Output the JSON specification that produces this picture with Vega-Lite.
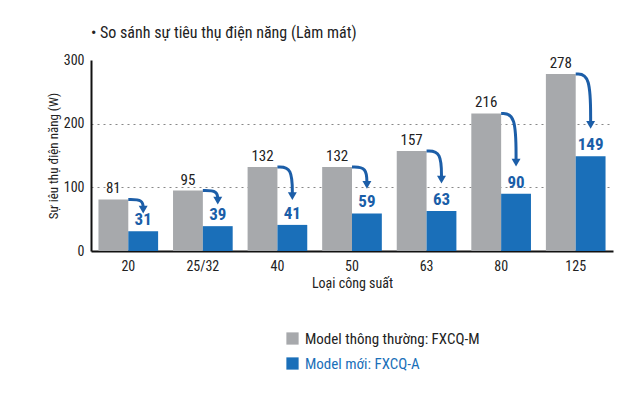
{
  "$schema": "https://vega.github.io/schema/vega-lite/v6.json",
  "width": 522,
  "height": 191,
  "padding": {"left": 47, "top": 25, "right": 5, "bottom": 5},
  "background": "white",
  "title": {
    "text": "• So sánh sự tiêu thụ điện năng (Làm mát)",
    "anchor": "start",
    "frame": "group",
    "fontSize": 16,
    "fontWeight": "normal",
    "color": "#222222",
    "font": "Liberation Sans Narrow, Roboto Condensed, Liberation Sans",
    "offset": 12
  },
  "config": {
    "view": {"stroke": null},
    "font": "Liberation Sans Narrow, Roboto Condensed, Liberation Sans"
  },
  "datasets": {
    "main": [
      {"cap": "20", "model": "Model thông thường: FXCQ-M", "value": 81},
      {"cap": "20", "model": "Model mới: FXCQ-A", "value": 31},
      {"cap": "25/32", "model": "Model thông thường: FXCQ-M", "value": 95},
      {"cap": "25/32", "model": "Model mới: FXCQ-A", "value": 39},
      {"cap": "40", "model": "Model thông thường: FXCQ-M", "value": 132},
      {"cap": "40", "model": "Model mới: FXCQ-A", "value": 41},
      {"cap": "50", "model": "Model thông thường: FXCQ-M", "value": 132},
      {"cap": "50", "model": "Model mới: FXCQ-A", "value": 59},
      {"cap": "63", "model": "Model thông thường: FXCQ-M", "value": 157},
      {"cap": "63", "model": "Model mới: FXCQ-A", "value": 63},
      {"cap": "80", "model": "Model thông thường: FXCQ-M", "value": 216},
      {"cap": "80", "model": "Model mới: FXCQ-A", "value": 90},
      {"cap": "125", "model": "Model thông thường: FXCQ-M", "value": 278},
      {"cap": "125", "model": "Model mới: FXCQ-A", "value": 149}
    ],
    "arrows": [
      {"id": 0, "pt": 0, "pos": 0.5, "value": 81},
      {"id": 0, "pt": 1, "pos": 0.7, "value": 81},
      {"id": 0, "pt": 2, "pos": 0.7, "value": 65},
      {"id": 1, "pt": 0, "pos": 1.5, "value": 95},
      {"id": 1, "pt": 1, "pos": 1.7, "value": 95},
      {"id": 1, "pt": 2, "pos": 1.7, "value": 79},
      {"id": 2, "pt": 0, "pos": 2.5, "value": 132},
      {"id": 2, "pt": 1, "pos": 2.7, "value": 132},
      {"id": 2, "pt": 2, "pos": 2.7, "value": 86},
      {"id": 3, "pt": 0, "pos": 3.5, "value": 132},
      {"id": 3, "pt": 1, "pos": 3.7, "value": 132},
      {"id": 3, "pt": 2, "pos": 3.7, "value": 104},
      {"id": 4, "pt": 0, "pos": 4.5, "value": 157},
      {"id": 4, "pt": 1, "pos": 4.7, "value": 157},
      {"id": 4, "pt": 2, "pos": 4.7, "value": 112},
      {"id": 5, "pt": 0, "pos": 5.5, "value": 216},
      {"id": 5, "pt": 1, "pos": 5.7, "value": 216},
      {"id": 5, "pt": 2, "pos": 5.7, "value": 139},
      {"id": 6, "pt": 0, "pos": 6.5, "value": 278},
      {"id": 6, "pt": 1, "pos": 6.7, "value": 278},
      {"id": 6, "pt": 2, "pos": 6.7, "value": 198}
    ]
  },
  "resolve": {"scale": {"x": "independent"}},
  "layer": [
    {
      "data": {"name": "main"},
      "encoding": {
        "x": {
          "field": "cap",
          "type": "nominal",
          "sort": null,
          "scale": {"paddingInner": 0.2, "paddingOuter": 0.1},
          "axis": {
            "title": "Loại công suất",
            "titleFontSize": 14,
            "titleFontWeight": "normal",
            "titleColor": "#222222",
            "titlePadding": 3,
            "labelAngle": 0,
            "labelFontSize": 14,
            "labelColor": "#222222",
            "labelPadding": 8,
            "ticks": false,
            "domainColor": "#111111",
            "domainWidth": 2
          }
        },
        "xOffset": {"field": "model", "type": "nominal", "sort": ["Model thông thường: FXCQ-M", "Model mới: FXCQ-A"]},
        "y": {
          "field": "value",
          "type": "quantitative",
          "scale": {"domain": [0, 300], "nice": false},
          "axis": {
            "title": "Sự iêu thụ điện năng (W)",
            "titleFontSize": 13,
            "titleFontWeight": "normal",
            "titleColor": "#222222",
            "titlePadding": 3,
            "values": [0, 100, 200, 300],
            "labelFontSize": 14,
            "labelColor": "#222222",
            "labelPadding": 7,
            "ticks": false,
            "domainColor": "#111111",
            "domainWidth": 2,
            "grid": true,
            "gridDash": [2, 4],
            "gridColor": {"condition": {"test": "datum.value == 300 || datum.value == 0", "value": "transparent"}, "value": "#888888"}
          }
        }
      },
      "layer": [
        {
          "mark": {"type": "bar"},
          "encoding": {
            "color": {
              "field": "model",
              "type": "nominal",
              "scale": {"domain": ["Model thông thường: FXCQ-M", "Model mới: FXCQ-A"], "range": ["#a7a9ac", "#1a6fb9"]},
              "legend": {
                "title": null,
                "orient": "none",
                "legendX": 194,
                "legendY": 271,
                "direction": "vertical",
                "symbolType": "square",
                "symbolSize": 150,
                "symbolStrokeWidth": 0,
                "labelFontSize": 15,
                "labelLimit": 400,
                "rowPadding": 9,
                "labelOffset": 5,
                "encode": {
                  "labels": {"update": {"fill": {"signal": "datum.label == 'Model mới: FXCQ-A' ? '#1a6fb9' : '#222222'"}}}
                }
              }
            }
          }
        },
        {
          "transform": [{"filter": "datum.model == 'Model thông thường: FXCQ-M'"}],
          "mark": {"type": "text", "baseline": "middle", "dy": -11, "fontSize": 15, "color": "#222222"},
          "encoding": {"text": {"field": "value", "type": "quantitative"}}
        },
        {
          "transform": [{"filter": "datum.model == 'Model mới: FXCQ-A'"}],
          "mark": {"type": "text", "baseline": "middle", "dy": -11, "fontSize": 17, "fontWeight": "bold", "color": "#1a5ea8"},
          "encoding": {"text": {"field": "value", "type": "quantitative"}}
        }
      ]
    },
    {
      "data": {"name": "arrows"},
      "encoding": {
        "x": {"field": "pos", "type": "quantitative", "scale": {"domain": [0, 7], "nice": false, "zero": false}, "axis": null},
        "y": {"field": "value", "type": "quantitative", "title": "Sự iêu thụ điện năng (W)"}
      },
      "layer": [
        {
          "mark": {"type": "line", "interpolate": "basis", "strokeWidth": 3, "color": "#1c5ea8"},
          "encoding": {"detail": {"field": "id", "type": "nominal"}, "order": {"field": "pt", "type": "quantitative"}}
        },
        {
          "transform": [{"filter": "datum.pt == 2"}],
          "mark": {"type": "point", "shape": "triangle-down", "filled": true, "size": 80, "color": "#1c5ea8", "opacity": 1}
        }
      ]
    }
  ]
}
